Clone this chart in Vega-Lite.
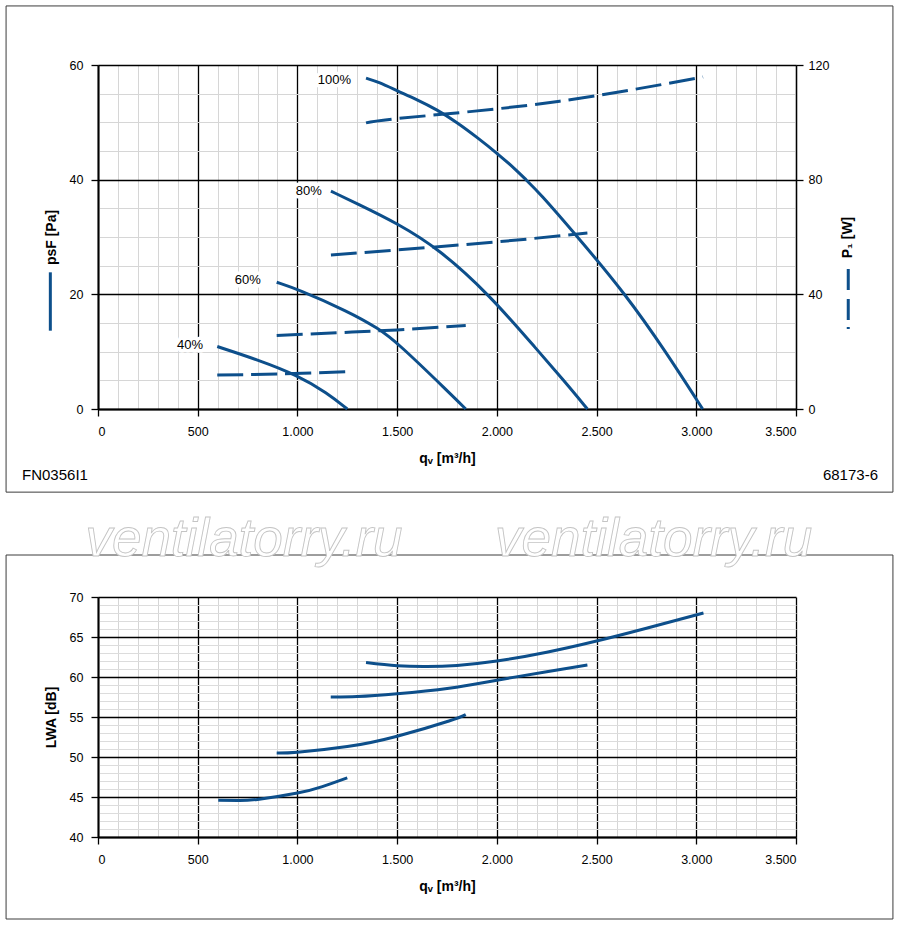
{
  "$schema": "https://vega.github.io/schema/vega-lite/v6.json",
  "background": "white",
  "padding": 5,
  "spacing": 188,
  "bounds": "flush",
  "datasets": {
    "pressure": [
      {"speed": "100%", "q": 1344, "p": 57.7}, {"speed": "100%", "q": 1409, "p": 57.0}, {"speed": "100%", "q": 1500, "p": 55.5},
      {"speed": "100%", "q": 1600, "p": 53.95}, {"speed": "100%", "q": 1700, "p": 52.2}, {"speed": "100%", "q": 1800, "p": 50.0},
      {"speed": "100%", "q": 1900, "p": 47.4}, {"speed": "100%", "q": 2000, "p": 44.65}, {"speed": "100%", "q": 2100, "p": 41.6},
      {"speed": "100%", "q": 2145, "p": 40.0}, {"speed": "100%", "q": 2211, "p": 37.8}, {"speed": "100%", "q": 2403, "p": 30.1},
      {"speed": "100%", "q": 2646, "p": 20.0}, {"speed": "100%", "q": 2847, "p": 10.0}, {"speed": "100%", "q": 3032, "p": 0},
      {"speed": "80%", "q": 1168, "p": 38.0}, {"speed": "80%", "q": 1300, "p": 35.8}, {"speed": "80%", "q": 1500, "p": 32.4},
      {"speed": "80%", "q": 1710, "p": 27.9}, {"speed": "80%", "q": 1961, "p": 20.0}, {"speed": "80%", "q": 2210, "p": 10.0},
      {"speed": "80%", "q": 2335, "p": 5.0}, {"speed": "80%", "q": 2454, "p": 0},
      {"speed": "60%", "q": 896, "p": 22.1}, {"speed": "60%", "q": 1000, "p": 20.9}, {"speed": "60%", "q": 1250, "p": 17.1},
      {"speed": "60%", "q": 1409, "p": 14.0}, {"speed": "60%", "q": 1500, "p": 11.6}, {"speed": "60%", "q": 1760, "p": 2.9},
      {"speed": "60%", "q": 1844, "p": 0},
      {"speed": "40%", "q": 598, "p": 10.9}, {"speed": "40%", "q": 800, "p": 8.6}, {"speed": "40%", "q": 1000, "p": 5.9},
      {"speed": "40%", "q": 1150, "p": 2.8}, {"speed": "40%", "q": 1250, "p": 0}
    ],
    "power": [
      {"speed": "100%", "q": 1344, "w": 99.8}, {"speed": "100%", "q": 1500, "w": 101.3}, {"speed": "100%", "q": 2000, "w": 104.7},
      {"speed": "100%", "q": 2500, "w": 109.3}, {"speed": "100%", "q": 3034, "w": 115.8},
      {"speed": "80%", "q": 1168, "w": 53.7}, {"speed": "80%", "q": 1500, "w": 55.5}, {"speed": "80%", "q": 2000, "w": 58.3},
      {"speed": "80%", "q": 2454, "w": 61.4},
      {"speed": "60%", "q": 896, "w": 25.6}, {"speed": "60%", "q": 1200, "w": 26.6}, {"speed": "60%", "q": 1500, "w": 27.6},
      {"speed": "60%", "q": 1844, "w": 29.1},
      {"speed": "40%", "q": 598, "w": 11.9}, {"speed": "40%", "q": 900, "w": 12.2}, {"speed": "40%", "q": 1250, "w": 13.0}
    ],
    "noise": [
      {"speed": "100%", "q": 1344, "lwa": 61.8}, {"speed": "100%", "q": 1500, "lwa": 61.4}, {"speed": "100%", "q": 1650, "lwa": 61.3},
      {"speed": "100%", "q": 1800, "lwa": 61.45}, {"speed": "100%", "q": 2000, "lwa": 62.0}, {"speed": "100%", "q": 2250, "lwa": 63.1},
      {"speed": "100%", "q": 2500, "lwa": 64.5}, {"speed": "100%", "q": 2750, "lwa": 66.1}, {"speed": "100%", "q": 3036, "lwa": 68.0},
      {"speed": "80%", "q": 1167, "lwa": 57.5}, {"speed": "80%", "q": 1300, "lwa": 57.55}, {"speed": "80%", "q": 1500, "lwa": 57.9},
      {"speed": "80%", "q": 1760, "lwa": 58.6}, {"speed": "80%", "q": 2000, "lwa": 59.6}, {"speed": "80%", "q": 2250, "lwa": 60.65},
      {"speed": "80%", "q": 2454, "lwa": 61.5},
      {"speed": "60%", "q": 896, "lwa": 50.5}, {"speed": "60%", "q": 1000, "lwa": 50.6}, {"speed": "60%", "q": 1250, "lwa": 51.3},
      {"speed": "60%", "q": 1500, "lwa": 52.6}, {"speed": "60%", "q": 1760, "lwa": 54.5}, {"speed": "60%", "q": 1844, "lwa": 55.3},
      {"speed": "40%", "q": 603, "lwa": 44.6}, {"speed": "40%", "q": 700, "lwa": 44.55}, {"speed": "40%", "q": 800, "lwa": 44.7},
      {"speed": "40%", "q": 1000, "lwa": 45.5}, {"speed": "40%", "q": 1125, "lwa": 46.3}, {"speed": "40%", "q": 1250, "lwa": 47.4}
    ],
    "speedLabels": [
      {"label": "100%", "q": 1269, "p": 56.7},
      {"label": "80%", "q": 1122, "p": 37.33},
      {"label": "60%", "q": 816, "p": 21.8},
      {"label": "40%", "q": 527, "p": 10.47}
    ],
    "footer": [
      {"label": "FN0356I1", "q": -381, "p": -12.38},
      {"label": "68173-6", "q": 3635, "p": -12.38}
    ],
    "watermark": [
      {"label": "ventilatorry.ru", "q": 732, "lwa": 75.1},
      {"label": "ventilatorry.ru", "q": 2786, "lwa": 75.1}
    ]
  },
  "vconcat": [
    {
      "width": 698,
      "height": 344,
      "layer": [
        {
          "data": {"values": [{}]},
          "mark": {"type": "rect", "fillOpacity": 0, "stroke": "#3c3c3c", "strokeWidth": 1, "clip": false},
          "encoding": {
            "x": {"datum": -461, "type": "quantitative", "scale": {"domain": [0, 3500], "nice": false, "zero": false},
              "axis": {"orient": "bottom", "values": [0,100,200,300,400,500,600,700,800,900,1000,1100,1200,1300,1400,1500,1600,1700,1800,1900,2000,2100,2200,2300,2400,2500,2600,2700,2800,2900,3000,3100,3200,3300,3400,3500],
                "grid": true, "gridColor": "#d6d6d6", "gridWidth": 1, "labels": false, "ticks": false, "domain": false, "title": null}},
            "x2": {"datum": 3986},
            "y": {"datum": 70.3, "type": "quantitative", "scale": {"domain": [0, 60], "nice": false, "zero": false},
              "axis": {"orient": "left", "values": [0,5,10,15,20,25,30,35,40,45,50,55,60],
                "grid": true, "gridColor": "#d6d6d6", "gridWidth": 1, "labels": false, "ticks": false, "domain": false, "title": null}},
            "y2": {"datum": -14.5}
          }
        },
        {
          "data": {"name": "pressure"},
          "mark": {"type": "line", "color": "#0d4f8b", "strokeWidth": 3, "interpolate": "basis"},
          "encoding": {
            "x": {"field": "q", "type": "quantitative", "scale": {"domain": [0, 3500], "nice": false, "zero": false},
              "axis": {"orient": "bottom", "values": [0,500,1000,1500,2000,2500,3000,3500],
                "grid": true, "gridColor": "#000", "gridWidth": 1.3, "domainColor": "#000", "domainWidth": 2,
                "tickColor": "#000", "tickWidth": 1.3, "tickSize": 7, "labelPadding": 9,
                "labelExpr": "replace(format(datum.value, ','), ',', '.')",
                "title": "qᵥ [m³/h]", "titleFontWeight": "bold", "titlePadding": 14}},
            "y": {"field": "p", "type": "quantitative", "scale": {"domain": [0, 60], "nice": false, "zero": false},
              "axis": {"orient": "left", "values": [0,20,40,60],
                "grid": true, "gridColor": "#000", "gridWidth": 1.3, "domainColor": "#000", "domainWidth": 2,
                "tickColor": "#000", "tickWidth": 1.3, "tickSize": 7, "labelPadding": 8,
                "title": "psF [Pa]", "titleFontWeight": "bold", "titlePadding": 11}},
            "detail": {"field": "speed"}
          }
        },
        {
          "data": {"name": "power"},
          "mark": {"type": "line", "color": "#0d4f8b", "strokeWidth": 3, "strokeDash": [26, 8], "interpolate": "natural"},
          "encoding": {
            "x": {"field": "q", "type": "quantitative", "scale": {"domain": [0, 3500], "nice": false, "zero": false}, "axis": null},
            "y": {"field": "w", "type": "quantitative", "scale": {"domain": [0, 120], "nice": false, "zero": false},
              "axis": {"orient": "right", "values": [0,40,80,120], "grid": false,
                "domainColor": "#000", "domainWidth": 1.3, "tickColor": "#000", "tickWidth": 1.3, "tickSize": 7, "labelPadding": 5,
                "title": "P₁ [W]", "titleFontWeight": "bold", "titleAngle": -90, "titleBaseline": "top", "titlePadding": 12}},
            "detail": {"field": "speed"}
          }
        },
        {
          "data": {"name": "speedLabels"},
          "mark": {"type": "text", "align": "right", "baseline": "alphabetic", "fontSize": 13, "color": "white", "stroke": "white", "strokeWidth": 7, "strokeJoin": "round"},
          "encoding": {
            "x": {"field": "q", "type": "quantitative", "scale": {"domain": [0, 3500], "nice": false, "zero": false}, "axis": null},
            "y": {"field": "p", "type": "quantitative", "scale": {"domain": [0, 60], "nice": false, "zero": false}, "axis": null},
            "text": {"field": "label"}
          }
        },
        {
          "data": {"name": "speedLabels"},
          "mark": {"type": "text", "align": "right", "baseline": "alphabetic", "fontSize": 13, "color": "#000"},
          "encoding": {
            "x": {"field": "q", "type": "quantitative", "scale": {"domain": [0, 3500], "nice": false, "zero": false}, "axis": null},
            "y": {"field": "p", "type": "quantitative", "scale": {"domain": [0, 60], "nice": false, "zero": false}, "axis": null},
            "text": {"field": "label"}
          }
        },
        {
          "data": {"name": "footer"},
          "mark": {"type": "text", "align": "left", "baseline": "alphabetic", "fontSize": 15, "color": "#000"},
          "encoding": {
            "x": {"field": "q", "type": "quantitative", "scale": {"domain": [0, 3500], "nice": false, "zero": false}, "axis": null},
            "y": {"field": "p", "type": "quantitative", "scale": {"domain": [0, 60], "nice": false, "zero": false}, "axis": null},
            "text": {"field": "label"}
          }
        },
        {
          "data": {"values": [{}]},
          "mark": {"type": "rule", "color": "#0d4f8b", "strokeWidth": 3},
          "encoding": {
            "x": {"datum": -239, "type": "quantitative", "scale": {"domain": [0, 3500], "nice": false, "zero": false}, "axis": null},
            "y": {"datum": 23.84, "type": "quantitative", "scale": {"domain": [0, 60], "nice": false, "zero": false}, "axis": null},
            "y2": {"datum": 13.66}
          }
        },
        {
          "data": {"values": [{}]},
          "mark": {"type": "rule", "color": "#0d4f8b", "strokeWidth": 3, "strokeDash": [21, 9, 21, 7, 2, 100]},
          "encoding": {
            "x": {"datum": 3762, "type": "quantitative", "scale": {"domain": [0, 3500], "nice": false, "zero": false}, "axis": null},
            "y": {"datum": 24.42, "type": "quantitative", "scale": {"domain": [0, 60], "nice": false, "zero": false}, "axis": null},
            "y2": {"datum": 13.95}
          }
        }
      ],
      "resolve": {"scale": {"y": "independent"}, "axis": {"x": "independent", "y": "independent"}}
    },
    {
      "width": 698,
      "height": 240,
      "layer": [
        {
          "data": {"values": [{}]},
          "mark": {"type": "rect", "fillOpacity": 0, "stroke": "#3c3c3c", "strokeWidth": 1, "clip": false},
          "encoding": {
            "x": {"datum": -461, "type": "quantitative", "scale": {"domain": [0, 3500], "nice": false, "zero": false},
              "axis": {"orient": "bottom", "values": [0,100,200,300,400,500,600,700,800,900,1000,1100,1200,1300,1400,1500,1600,1700,1800,1900,2000,2100,2200,2300,2400,2500,2600,2700,2800,2900,3000,3100,3200,3300,3400,3500],
                "grid": true, "gridColor": "#d6d6d6", "gridWidth": 1, "labels": false, "ticks": false, "domain": false, "title": null}},
            "x2": {"datum": 3986},
            "y": {"datum": 75.25, "type": "quantitative", "scale": {"domain": [40, 70], "nice": false, "zero": false},
              "axis": {"orient": "left", "values": [40,41,42,43,44,45,46,47,48,49,50,51,52,53,54,55,56,57,58,59,60,61,62,63,64,65,66,67,68,69,70],
                "grid": true, "gridColor": "#dcdcdc", "gridWidth": 1, "labels": false, "ticks": false, "domain": false, "title": null}},
            "y2": {"datum": 29.75}
          }
        },
        {
          "data": {"name": "noise"},
          "mark": {"type": "line", "color": "#0d4f8b", "strokeWidth": 3, "interpolate": "natural"},
          "encoding": {
            "x": {"field": "q", "type": "quantitative", "scale": {"domain": [0, 3500], "nice": false, "zero": false},
              "axis": {"orient": "bottom", "values": [0,500,1000,1500,2000,2500,3000,3500],
                "grid": true, "gridColor": "#000", "gridWidth": 1.3, "domainColor": "#000", "domainWidth": 2,
                "tickColor": "#000", "tickWidth": 1.3, "tickSize": 7, "labelPadding": 9,
                "labelExpr": "replace(format(datum.value, ','), ',', '.')",
                "title": "qᵥ [m³/h]", "titleFontWeight": "bold", "titlePadding": 14}},
            "y": {"field": "lwa", "type": "quantitative", "scale": {"domain": [40, 70], "nice": false, "zero": false},
              "axis": {"orient": "left", "values": [40,45,50,55,60,65,70],
                "grid": true, "gridColor": "#000", "gridWidth": 1.3, "domainColor": "#000", "domainWidth": 2,
                "tickColor": "#000", "tickWidth": 1.3, "tickSize": 7, "labelPadding": 8,
                "title": "LWA [dB]", "titleFontWeight": "bold", "titlePadding": 11}},
            "detail": {"field": "speed"}
          }
        },
        {
          "data": {"name": "watermark"},
          "mark": {"type": "text", "align": "center", "baseline": "alphabetic", "fontSize": 53, "fontStyle": "italic", "color": "white", "stroke": "#c4c4c4", "strokeWidth": 0.9},
          "encoding": {
            "x": {"field": "q", "type": "quantitative", "scale": {"domain": [0, 3500], "nice": false, "zero": false}, "axis": null},
            "y": {"field": "lwa", "type": "quantitative", "scale": {"domain": [40, 70], "nice": false, "zero": false}, "axis": null},
            "text": {"field": "label"}
          }
        }
      ],
      "resolve": {"axis": {"x": "independent", "y": "independent"}}
    }
  ],
  "config": {
    "view": {"stroke": null},
    "font": "Liberation Sans",
    "axis": {"labelFont": "Liberation Sans", "titleFont": "Liberation Sans", "labelColor": "#000", "titleColor": "#000", "labelFontSize": 12.5, "titleFontSize": 14},
    "text": {"font": "Liberation Sans"}
  }
}
